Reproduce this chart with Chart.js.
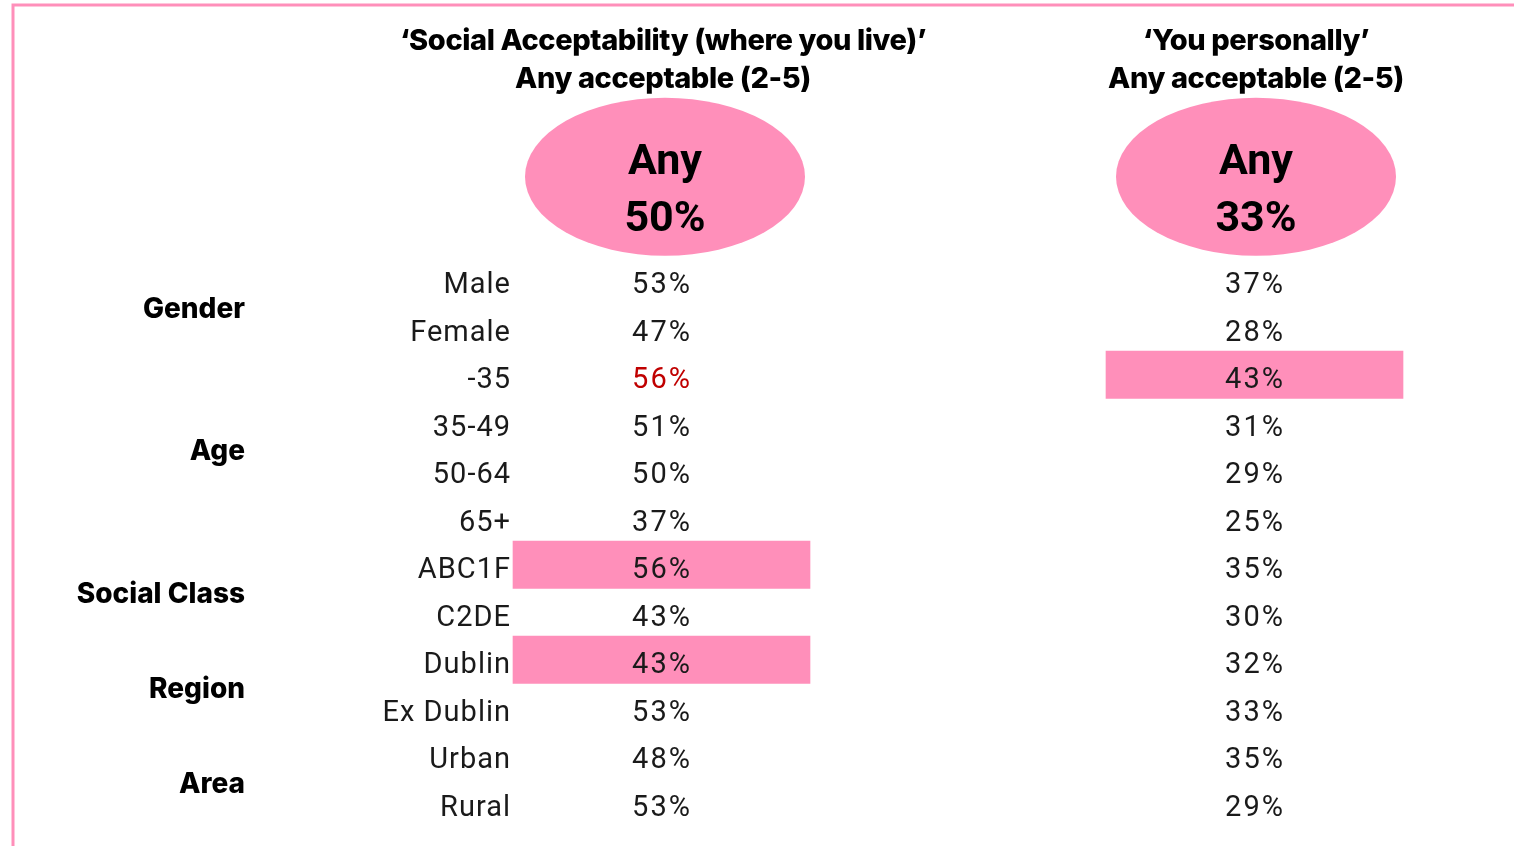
<!DOCTYPE html>
<html>
<head>
<meta charset="utf-8">
<script src="https://cdn.jsdelivr.net/npm/chart.js@4.4.1/dist/chart.umd.min.js"></script>
<style>
  html, body { margin: 0; padding: 0; background: #fff; }
  #wrap { width: 1514px; height: 846px; position: relative; }
</style>
</head>
<body>
<div id="wrap"><canvas id="acceptChart"></canvas></div>
<script>
// Row labels and their groups
const rowLabels = ['Male', 'Female', '-35', '35-49', '50-64', '65+', 'ABC1F', 'C2DE', 'Dublin', 'Ex Dublin', 'Urban', 'Rural'];
const groupNames = ['Gender', 'Age', 'Social Class', 'Region', 'Area'];
const groupSizes = [2, 4, 2, 2, 2];

// Column titles
const columnTitles = [
    ['\u2018Social Acceptability (where you live)\u2019', 'Any acceptable (2-5)'],
    ['\u2018You personally\u2019', 'Any acceptable (2-5)']
];

// Values (%)
const socialTotal = 50;
const personalTotal = 33;
const socialValues = [53, 47, 56, 51, 50, 37, 56, 43, 43, 53, 48, 53];
const personalValues = [37, 28, 43, 31, 29, 25, 35, 30, 32, 33, 35, 29];

// Highlighted cells
const socialHighlight = ['ABC1F', 'Dublin'];
const personalHighlight = ['-35'];
const socialRed = ['-35'];

// Layout (x scale units)
const PINK = '#FF8FBA';
const colSocial = { left: 513, right: 810, center: 661, ellipse: 665 };
const colPersonal = { left: 1106, right: 1403, center: 1254, ellipse: 1256 };
const groupRight = 245;
const labelRight = 510;

function spanFor(list, col) {
    return rowLabels.map(l => list.includes(l) ? [col.left, col.right] : null);
}

// Draws titles, ellipses, labels and values using the chart scales
const tablePlugin = {
    id: 'tableText',
    beforeDraw(chart) {
        const ctx = chart.ctx;
        ctx.save();
        ctx.fillStyle = '#fff';
        ctx.fillRect(0, 0, chart.width, chart.height);
        // frame
        ctx.strokeStyle = PINK;
        ctx.lineWidth = 3;
        ctx.beginPath();
        ctx.moveTo(13, chart.height);
        ctx.lineTo(13, 5);
        ctx.lineTo(chart.width, 5);
        ctx.stroke();
        ctx.restore();
    },
    afterDatasetsDraw(chart) {
        const ctx = chart.ctx;
        const x = chart.scales.x;
        const y = chart.scales.y;
        const rowH = y.getPixelForValue(1) - y.getPixelForValue(0);
        const top = y.getPixelForValue(0);
        ctx.save();
        ctx.textBaseline = 'middle';

        // column headers
        [[colSocial, socialTotal, columnTitles[0]], [colPersonal, personalTotal, columnTitles[1]]].forEach(([col, total, title]) => {
            const cx = x.getPixelForValue(col.center);
            ctx.fillStyle = '#000';
            ctx.textAlign = 'center';
            ctx.font = '800 29px Inter';
            ctx.letterSpacing = '-0.4px';
            ctx.fillText(title[0], cx + 2, top - rowH * 5.02);
            ctx.fillText(title[1], cx + 2, top - rowH * 4.22);
            ctx.letterSpacing = '0px';
            const ex = x.getPixelForValue(col.ellipse);
            const ey = top - rowH * 2.17;
            ctx.fillStyle = PINK;
            ctx.beginPath();
            ctx.ellipse(ex, ey, 140, 79, 0, 0, Math.PI * 2);
            ctx.fill();
            ctx.fillStyle = '#000';
            ctx.font = 'bold 43px Roboto';
            ctx.fillText('Any', ex, ey - 13);
            ctx.fillText(total + '%', ex, ey + 44);
        });

        // group labels
        ctx.font = '800 28px Inter';
        ctx.textAlign = 'right';
        let start = 0;
        groupNames.forEach((g, i) => {
            const mid = start + (groupSizes[i] - 1) / 2;
            ctx.fillText(g, x.getPixelForValue(groupRight), y.getPixelForValue(mid) + 6);
            start += groupSizes[i];
        });

        // row labels and values
        ctx.font = '29px Roboto';
        rowLabels.forEach((label, i) => {
            const py = y.getPixelForValue(i) + 6;
            ctx.fillStyle = '#1a1a1a';
            ctx.textAlign = 'right';
            ctx.letterSpacing = '1px';
            ctx.fillText(label, x.getPixelForValue(labelRight) + 1, py);
            ctx.textAlign = 'center';
            ctx.letterSpacing = '2px';
            ctx.fillStyle = socialRed.includes(label) ? '#C00000' : '#1a1a1a';
            ctx.fillText(socialValues[i] + '%', x.getPixelForValue(colSocial.center) + 1, py);
            ctx.fillStyle = '#1a1a1a';
            ctx.fillText(personalValues[i] + '%', x.getPixelForValue(colPersonal.center) + 1, py);
        });
        ctx.restore();
    }
};

new Chart(document.getElementById('acceptChart'), {
    type: 'bar',
    data: {
        labels: rowLabels,
        datasets: [
            {
                label: 'Social highlight',
                data: spanFor(socialHighlight, colSocial),
                backgroundColor: PINK,
                barPercentage: 1,
                categoryPercentage: 1,
                grouped: false
            },
            {
                label: 'Personal highlight',
                data: spanFor(personalHighlight, colPersonal),
                backgroundColor: PINK,
                barPercentage: 1,
                categoryPercentage: 1,
                grouped: false
            }
        ]
    },
    options: {
        indexAxis: 'y',
        responsive: true,
        maintainAspectRatio: false,
        animation: false,
        layout: { padding: { top: 256, bottom: 20, left: 0, right: 0 } },
        plugins: {
            legend: { display: false },
            tooltip: { enabled: false }
        },
        scales: {
            x: { type: 'linear', min: 0, max: 1514, display: false },
            y: { type: 'category', display: false }
        }
    },
    plugins: [tablePlugin]
});
</script>
</body>
</html>
